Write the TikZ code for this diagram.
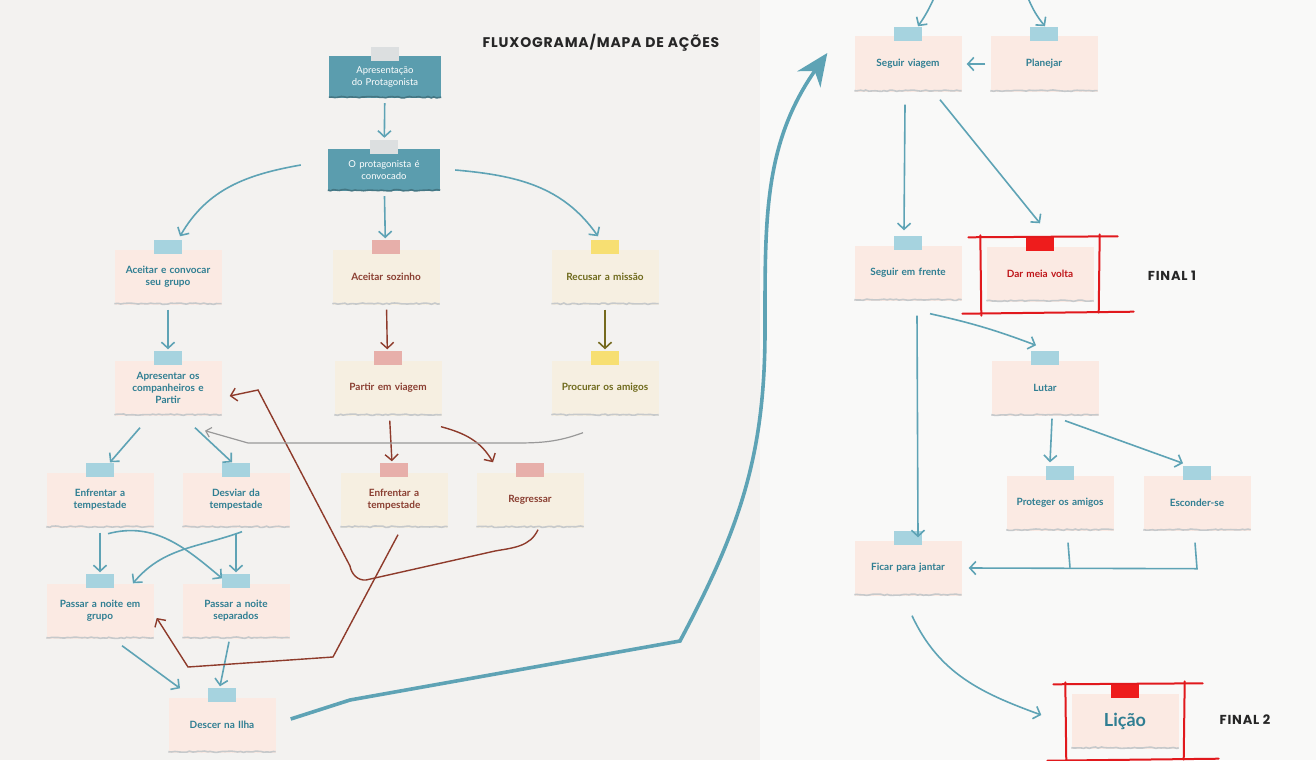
\documentclass[tikz,border=0pt]{standalone}
\usepackage{fontspec}
\setmainfont{Lato}
\newfontfamily\titlefont{Poppins}[LetterSpace=6]
\usepackage{tikz}
\usetikzlibrary{arrows.meta, positioning, calc, decorations.pathmorphing}

\definecolor{tealbox}{HTML}{5B9DAE}
\definecolor{tealline}{HTML}{5EA3B5}
\definecolor{tealtext}{HTML}{2F7E92}
\definecolor{notepink}{HTML}{FBEAE3}
\definecolor{notecream}{HTML}{F6EFE1}
\definecolor{tapeblue}{HTML}{A6D3DF}
\definecolor{tapepink}{HTML}{E7AFAA}
\definecolor{tapeyellow}{HTML}{F7DF72}
\definecolor{tapegrey}{HTML}{DCDFE0}
\definecolor{tapered}{HTML}{EE1C1C}
\definecolor{brownline}{HTML}{8E3B2B}
\definecolor{browntext}{HTML}{8A3E31}
\definecolor{olivetext}{HTML}{6F6A1C}
\definecolor{oliveline}{HTML}{756A1E}
\definecolor{framered}{HTML}{E1191D}
\definecolor{paperleft}{HTML}{F3F2F0}
\definecolor{paperright}{HTML}{F9F9F8}
\definecolor{tornedge}{HTML}{C6C9CB}

\newcommand{\notefont}{\bfseries\fontsize{10}{12}\selectfont}
\newcommand{\boxfont}{\fontsize{9.5}{11.5}\selectfont}
\newcommand{\headfont}{\titlefont\bfseries\fontsize{14}{16}\selectfont}

\begin{document}
\begin{tikzpicture}[x=1pt, y=1pt,
    note/.style={rectangle, minimum width=107pt, minimum height=55pt, text width=99pt,
        align=center, inner sep=0pt, font=\notefont},
    pinknote/.style={note, fill=notepink, text=tealtext},
    creamnote/.style={note, fill=notecream, text=browntext},
    olivenote/.style={note, fill=notecream, text=olivetext},
    darkbox/.style={rectangle, fill=tealbox, text=white, minimum width=112pt,
        minimum height=42pt, text width=100pt, align=center, inner sep=0pt, font=\boxfont},
    headlabel/.style={font=\headfont, text=black!85},
    flow/.style={tealline, line width=1.6pt, -{Straight Barb[length=6pt,width=13pt]}},
    backflow/.style={brownline, line width=1.4pt, -{Straight Barb[length=6pt,width=13pt]}},
    gapped/.style={shorten <=5pt, shorten >=11pt},
    redline/.style={framered, line width=2pt, line cap=round},
    torn/.style={line width=1.6pt, decorate,
        decoration={random steps, segment length=3pt, amplitude=0.7pt}}
]
    \pgfmathsetseed{7}
    \useasboundingbox (0,0) rectangle (1316,-760);

    % Paper
    \fill[paperleft] (0,0) rectangle (760,-760);
    \fill[paperright] (760,0) rectangle (1316,-760);

    % Title and finals
    \node[headlabel] (titulo) at (601,-43) {FLUXOGRAMA/MAPA DE AÇÕES};
    \node[headlabel, font=\titlefont\bfseries\fontsize{13}{15}\selectfont] (final1) at (1172,-276) {FINAL 1};
    \node[headlabel, font=\titlefont\bfseries\fontsize{13}{15}\selectfont] (final2) at (1245,-720) {FINAL 2};

    % Left map
    \node[darkbox] (app) at (385,-77) {Apresentação\\do Protagonista};
    \node[darkbox] (conv) at (384,-170) {O protagonista é\\convocado};
    \node[pinknote] (grupo) at (168,-277) {Aceitar e convocar\\seu grupo};
    \node[creamnote] (sozinho) at (386,-277) {Aceitar sozinho};
    \node[olivenote] (recusar) at (605,-277) {Recusar a missão};
    \node[pinknote] (apres) at (168,-388) {Apresentar os\\companheiros e\\Partir};
    \node[creamnote] (partir) at (388,-388) {Partir em viagem};
    \node[olivenote] (procurar) at (605,-388) {Procurar os amigos};
    \node[pinknote] (enfA) at (100,-500) {Enfrentar a\\tempestade};
    \node[pinknote] (desviar) at (236,-500) {Desviar da\\tempestade};
    \node[creamnote] (enfB) at (394,-500) {Enfrentar a\\tempestade};
    \node[creamnote] (regressar) at (530,-500) {Regressar};
    \node[pinknote] (noiteG) at (100,-611) {Passar a noite em\\grupo};
    \node[pinknote] (noiteS) at (236,-611) {Passar a noite\\separados};
    \node[pinknote] (descer) at (222,-725) {Descer na Ilha};

    % Right map
    \node[pinknote] (seguir) at (908,-64) {Seguir viagem};
    \node[pinknote] (planejar) at (1044,-64) {Planejar};
    \node[pinknote] (frente) at (908,-273) {Seguir em frente};
    \node[pinknote, text=framered!85!black] (dar) at (1040,-274) {Dar meia volta};
    \node[pinknote] (lutar) at (1045,-388) {Lutar};
    \node[pinknote] (proteger) at (1060,-503) {Proteger os amigos};
    \node[pinknote] (esconder) at (1197,-503) {Esconder-se};
    \node[pinknote] (ficar) at (908,-568) {Ficar para jantar};
    \node[pinknote, font=\bfseries\fontsize{18}{20}\selectfont] (licao) at (1125,-721) {Lição};

    % Torn edges and tapes
    \foreach \n in {app, conv}
        \draw[torn, tealbox!75!black] ($(\n.south west)+(0,1)$) -- ($(\n.south east)+(0,1)$);
    \foreach \n in {grupo, sozinho, recusar, apres, partir, procurar, enfA, desviar, enfB,
        regressar, noiteG, noiteS, descer, seguir, planejar, frente, dar, lutar,
        proteger, esconder, ficar, licao}
        \draw[torn, tornedge] ($(\n.south west)+(0,1)$) -- ($(\n.south east)+(0,1)$);
    \foreach \n/\c in {app/tapegrey, conv/tapegrey, grupo/tapeblue, sozinho/tapepink,
        recusar/tapeyellow, apres/tapeblue, partir/tapepink, procurar/tapeyellow,
        enfA/tapeblue, desviar/tapeblue, enfB/tapepink, regressar/tapepink,
        noiteG/tapeblue, noiteS/tapeblue, descer/tapeblue, seguir/tapeblue,
        planejar/tapeblue, frente/tapeblue, dar/tapered, lutar/tapeblue,
        proteger/tapeblue, esconder/tapeblue, ficar/tapeblue, licao/tapered}
        \fill[\c] ($(\n.north)+(-14,9)$) rectangle ($(\n.north)+(14,-5)$);

    % Red frames
    \foreach \n in {dar, licao} {
        \draw[redline] ($(\n.north west)+(-18,9)$) -- ($(\n.north east)+(24,10)$);
        \draw[redline] ($(\n.south west)+(-24,-12)$) -- ($(\n.south east)+(40,-10)$);
        \draw[redline] ($(\n.north west)+(-6,11)$) -- ($(\n.south west)+(-5,-14)$);
        \draw[redline] ($(\n.north east)+(6,12)$) -- ($(\n.south east)+(5,-11)$);
    }

    % Teal arrows, left
    \draw[flow, gapped] (app) -- (conv);
    \draw[flow] ($(conv.west)+(-27,5)$) to[out=190, in=60] ($(grupo.north)+(12,13)$);
    \draw[flow, gapped] (conv) -- (sozinho);
    \draw[flow] ($(conv.east)+(15,0)$) to[out=-5, in=125] ($(recusar.north)+(-7,13)$);
    \draw[flow, gapped] (grupo) -- (apres);
    \draw[flow] ($(apres.south)+(-28,-12)$) -- ($(enfA.north)+(10,10)$);
    \draw[flow] ($(apres.south)+(27,-12)$) -- ($(desviar.north)+(-4,10)$);
    \draw[flow, gapped] (enfA) -- (noiteG);
    \draw[flow] ($(enfA.south)+(8,-6)$) to[out=15, in=140] ($(noiteS.north)+(-14,5)$);
    \draw[flow] ($(desviar.south)+(6,-4)$) to[out=200, in=50] ($(noiteG.north)+(33,0)$);
    \draw[flow, gapped] (desviar) -- (noiteS);
    \draw[flow] ($(noiteG.south)+(22,-7)$) -- ($(descer.north)+(-42,9)$);
    \draw[flow] ($(noiteS.south)+(-7,-3)$) -- ($(descer.north)+(-2,11)$);

    % Brown arrows
    \draw[backflow, gapped] (sozinho) -- (partir);
    \draw[backflow, gapped] (partir) -- (enfB);
    \draw[backflow] ($(partir.south)+(53,-11)$) to[out=-15, in=120] ($(regressar.north)+(-37,10)$);
    \draw[backflow] ($(enfB.south)+(4,-7)$) -- (333,-657) -- (188,-667) -- ($(noiteG.east)+(3,-7)$);
    \draw[backflow] ($(regressar.south)+(8,-2)$) to[out=-115, in=10] (495,-551) -- (366,-580)
        to[out=185, in=-80] (350,-566) -- (258,-390) -- ($(apres.east)+(8,-8)$);

    % Grey and olive arrows
    \draw[gray!80, line width=1.2pt, -{Straight Barb[length=5pt,width=10pt]}]
        ($(procurar.south)+(-22,-17)$) to[out=-160, in=0] (515,-443) -- (248,-443)
        -- ($(apres.south)+(37,-15)$);
    \draw[oliveline, line width=1.6pt, -{Straight Barb[length=6pt,width=13pt]}, gapped] (recusar) -- (procurar);

    % Journey to the island and back
    \draw[tealline, line width=3.6pt, -{Stealth[length=32pt,width=28pt,inset=10pt]}]
        ($(descer.east)+(15,6)$) -- (350,-700) -- (680,-641)
        to[out=62, in=-90] (765,-330) to[out=90, in=-125] ($(seguir.west)+(-27,11)$);

    % Teal arrows, right
    \coordinate (fromA) at (934,2);
    \coordinate (fromB) at (1028,2);
    \draw[flow] (fromA) to[bend left=5] ($(seguir.north)+(10,10)$);
    \draw[flow] (fromB) to[bend right=8] ($(planejar.north)+(1,10)$);
    \draw[flow, shorten <=5pt, shorten >=5pt] (planejar) -- (seguir);
    \draw[flow] ($(seguir.south)+(-3,-13)$) -- ($(frente.north)+(-4,15)$);
    \draw[flow] ($(seguir.south)+(32,-8)$) -- ($(dar.north)+(0,23)$);
    \draw[flow] ($(frente.south)+(9,-15)$) -- ($(ficar.north)+(10,3)$);
    \draw[flow] ($(frente.south)+(22,-13)$) to[bend left=4] ($(lutar.north)+(-9,15)$);
    \draw[flow] ($(lutar.south)+(7,-3)$) -- ($(proteger.north)+(-10,13)$);
    \draw[flow] ($(lutar.south)+(20,-5)$) -- ($(esconder.north)+(-14,12)$);
    \draw[tealline, line width=1.6pt] ($(proteger.south)+(8,-12)$) -- ($(proteger.south)+(10,-37)$);
    \draw[flow] ($(esconder.south)+(-2,-12)$) -- ($(esconder.south)+(0,-38)$) -- ($(ficar.east)+(7,0)$);
    \draw[flow] ($(ficar.south)+(4,-20)$) to[out=-65, in=160] ($(licao.west)+(-30,6)$);
\end{tikzpicture}
\end{document}
